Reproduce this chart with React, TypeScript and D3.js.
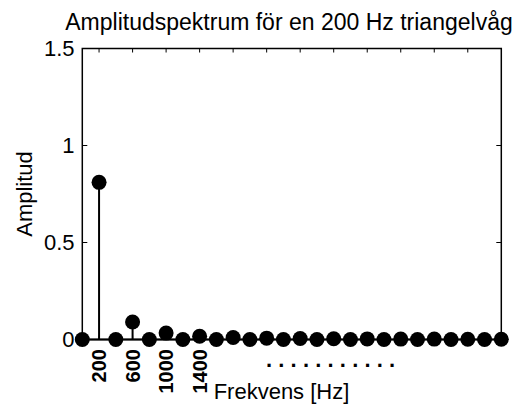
import React from "react";
import * as d3 from "d3";

const frequencies = [0, 200, 400, 600, 800, 1000, 1200, 1400, 1600, 1800, 2000, 2200, 2400, 2600, 2800, 3000, 3200, 3400, 3600, 3800, 4000, 4200, 4400, 4600, 4800, 5000];
const amplitudes = [0, 0.81, 0, 0.09, 0, 0.033, 0, 0.017, 0, 0.01, 0, 0.007, 0, 0.005, 0, 0.004, 0, 0.003, 0, 0.002, 0, 0.002, 0, 0.0015, 0, 0.0013];
const xTickValues = [200, 600, 1000, 1400, 1800, 2200, 2600, 3000, 3400, 3800, 4200, 4600];
const xTickLabels = ["200", "600", "1000", "1400"];
const yTickValues = [0, 0.5, 1, 1.5];
const yTickLabels = ["0", "0.5", "1", "1.5"];

const W = 516;
const H = 409;
const FONT = "'Liberation Sans', Arial, Helvetica, sans-serif";

export default function App() {
  const left = 82.3;
  const right = 501.3;
  const top = 48.5;
  const bottom = 339.5;
  const x = d3.scaleLinear().domain([0, 5000]).range([left, right]);
  const y = d3.scaleLinear().domain([0, 1.5]).range([bottom, top]);
  const r = 7.5;

  return (
    <svg width={W} height={H} style={{ position: "absolute", left: 0, top: 0, background: "#fff" }} fontFamily={FONT}>
      <rect x={0} y={0} width={W} height={H} fill="#fff" />
      {/* title */}
      <text x={289} y={30} textAnchor="middle" fontSize={23} fill="#000">
        Amplitudspektrum för en 200 Hz triangelvåg
      </text>
      {/* axes box */}
      <rect x={left} y={top} width={right - left} height={bottom - top} fill="none" stroke="#000" strokeWidth={1.5} />
      {/* x ticks (top and bottom, inward) */}
      {xTickValues.map((v) => (
        <g key={"xt" + v}>
          <line x1={x(v)} x2={x(v)} y1={top} y2={top + 4} stroke="#000" strokeWidth={1} />
          <line x1={x(v)} x2={x(v)} y1={bottom} y2={bottom - 4} stroke="#000" strokeWidth={1} />
        </g>
      ))}
      {/* y ticks */}
      {yTickValues.map((v, i) => (
        <g key={"yt" + v}>
          <line x1={left} x2={left + 5} y1={y(v)} y2={y(v)} stroke="#000" strokeWidth={1} />
          <line x1={right} x2={right - 5} y1={y(v)} y2={y(v)} stroke="#000" strokeWidth={1} />
          <text x={74.5} y={y(v)} dy="0.36em" textAnchor="end" fontSize={22} fill="#000">
            {yTickLabels[i]}
          </text>
        </g>
      ))}
      {/* x tick labels, rotated, bold */}
      {xTickLabels.map((t) => {
        const xv = x(+t);
        return (
          <text
            key={"xl" + t}
            transform={`translate(${xv + 7},${349}) rotate(-90)`}
            textAnchor="end"
            fontSize={20}
            fontWeight="bold"
            fill="#000"
          >
            {t}
          </text>
        );
      })}
      {/* baseline */}
      <line x1={x(0)} x2={x(5000)} y1={y(0)} y2={y(0)} stroke="#000" strokeWidth={2} />
      {/* stems */}
      {frequencies.map((f, i) => (
        <line key={"s" + f} x1={x(f)} x2={x(f)} y1={y(0)} y2={y(amplitudes[i])} stroke="#000" strokeWidth={2} />
      ))}
      {/* markers */}
      {frequencies.map((f, i) => (
        <circle key={"m" + f} cx={x(f)} cy={y(amplitudes[i])} r={r} fill="#000" />
      ))}
      {/* dots */}
      <text x={266} y={367} fontSize={22} fontWeight="bold" letterSpacing={6.2} fill="#000">
        ...........
      </text>
      {/* axis labels */}
      <text x={281.5} y={399} textAnchor="middle" fontSize={22} fill="#000">
        Frekvens [Hz]
      </text>
      <text transform={`translate(32,194) rotate(-90)`} textAnchor="middle" fontSize={22} fill="#000">
        Amplitud
      </text>
    </svg>
  );
}
